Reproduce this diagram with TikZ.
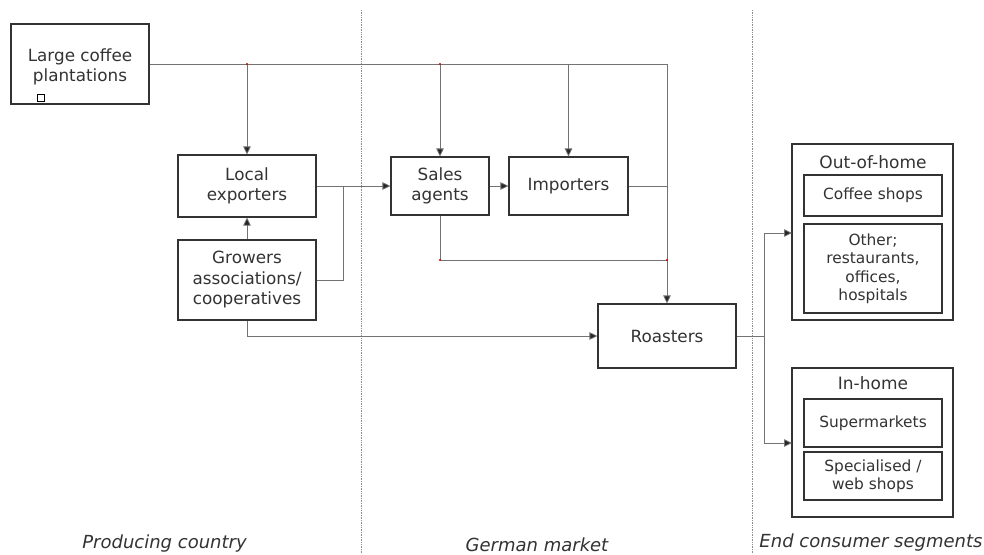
\documentclass[tikz,border=0pt]{standalone}
\usepackage{fontspec}
\setmainfont{DejaVu Sans}
\usetikzlibrary{arrows.meta,calc}
\begin{document}
\begin{tikzpicture}[x=1pt,y=-1pt,
  box/.style={draw=black!80,line width=1.1pt,rectangle,inner sep=0pt,align=center,
    font=\fontsize{16.8}{20.5}\selectfont,text=black!80},
  inbox/.style={box,font=\fontsize{15.4}{18.5}\selectfont},
  conn/.style={draw=black!55,line width=0.8pt},
  arr/.style={conn,-{Triangle[length=8pt,width=7.5pt,fill=black!85]}},
  divider/.style={draw=black!45,line width=0.7pt,densely dotted},
  region/.style={font=\fontsize{18}{20}\selectfont\itshape,text=black!80,anchor=base},
  title/.style={font=\fontsize{17}{20}\selectfont,text=black!80},
  reddot/.style={fill=red!80!black,draw=none},
]
\useasboundingbox (0,0) rectangle (984,554);
\fill[white] (0,0) rectangle (984,554);

% dividers
\draw[divider] (361,10) -- (361,554);
\draw[divider] (752,10) -- (752,554);

% nodes
\node[box,minimum width=138,minimum height=80,
  label={[align=center,font=\fontsize{16.8}{20.5}\selectfont,text=black!80,yshift=-3pt]center:Large coffee\\plantations}] (lcp) at (80,64) {};
\node[draw=black,line width=0.8pt,minimum size=7,inner sep=0pt] (sq) at (41,98) {};
\node[box,minimum width=138,minimum height=62] (lex) at (247,186) {Local\\exporters};
\node[box,minimum width=138,minimum height=80] (grow) at (247,280) {Growers\\associations/\\cooperatives};
\node[box,minimum width=98,minimum height=58] (sales) at (440,186) {Sales\\agents};
\node[box,minimum width=119,minimum height=58] (imp) at (568.5,186) {Importers};
\node[box,minimum width=138,minimum height=64] (roast) at (667,336) {Roasters};

\node[box,minimum width=161,minimum height=176] (ooh) at (872.5,232) {};
\node[title] (oohT) at (873,162) {Out-of-home};
\node[inbox,minimum width=138,minimum height=41] (cof) at (873,195.5) {Coffee shops};
\node[inbox,minimum width=138,minimum height=89] (oth) at (873,268.5) {Other;\\restaurants,\\offices,\\hospitals};

\node[box,minimum width=161,minimum height=149] (inh) at (872.5,442.5) {};
\node[title] (inhT) at (873,383) {In-home};
\node[inbox,minimum width=138,minimum height=48] (sup) at (873,423) {Supermarkets};
\node[inbox,minimum width=138,minimum height=48] (spe) at (873,476) {Specialised /\\web shops};

% region labels
\node[region] (pc) at (164.5,548) {Producing country};
\node[region] (gm) at (537,551) {German market};
\node[region] (ec) at (871,547) {End consumer segments};

% coordinates
\coordinate (gj) at (343,186);
\coordinate (sj) at (667,260);
\coordinate (rs) at (764,336);
\coordinate (oa) at (792,233);
\coordinate (ia) at (792,443);

% connectors
\draw[arr] (lcp.east) -| (roast.north);
\draw[arr] (lcp.east -| lex.north) -- (lex.north);
\draw[arr] (lcp.east -| sales.north) -- (sales.north);
\draw[arr] (lcp.east -| imp.north) -- (imp.north);
\draw[arr] (grow.north) -- (lex.south);
\draw[arr] (lex.east) -- (sales.west);
\draw[conn] (grow.east) -| (gj);
\draw[arr] (grow.south) |- (roast.west);
\draw[arr] (sales.east) -- (imp.west);
\draw[conn] (imp.east) -- (imp.east -| roast.north);
\draw[conn] (sales.south) |- (sj);
\draw[conn] (roast.east) -- (rs);
\draw[arr] (rs) |- (oa);
\draw[arr] (rs) |- (ia);

% small red marks at junctions
\fill[reddot] (lcp.east -| lex.north) circle (1.2);
\fill[reddot] (lcp.east -| sales.north) circle (1.2);
\fill[reddot] (sales.south |- sj) circle (1.2);
\fill[reddot] (sj) circle (1.2);
\end{tikzpicture}
\end{document}
